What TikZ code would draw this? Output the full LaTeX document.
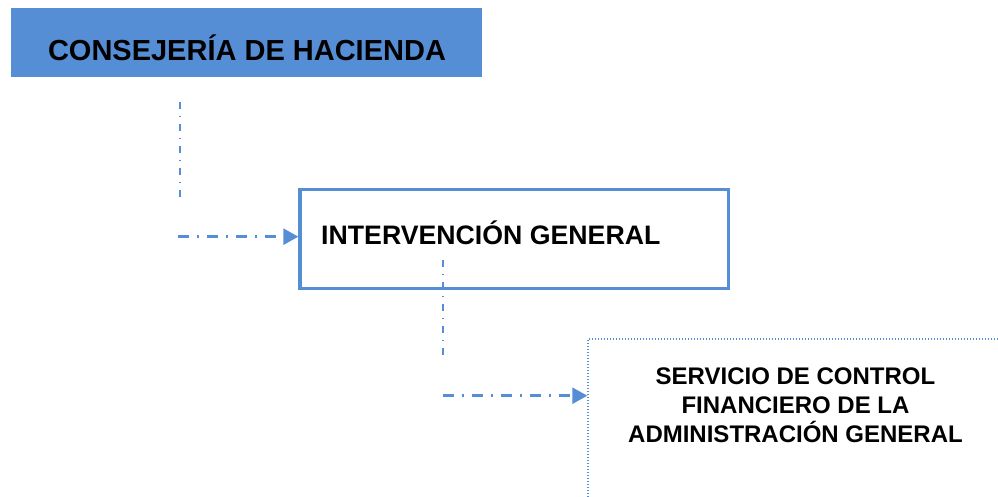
\documentclass[tikz,border=0pt]{standalone}
\usepackage{fontspec}
\setmainfont{Liberation Sans}
\usetikzlibrary{arrows.meta,calc}
\definecolor{obl}{RGB}{85,142,213}
\begin{document}
\begin{tikzpicture}[x=1pt,y=-1pt,
  hline/.style={draw=obl,line width=2.6pt,dash pattern=on 11pt off 8pt on 2pt off 8pt,
    -{Triangle[length=15pt,width=16pt]}},
  vline/.style={draw=obl,line width=2pt,dash pattern=on 7pt off 7pt on 1pt off 7pt},
  lbl/.style={inner sep=0pt,font=\bfseries}]
\useasboundingbox (0,0) rectangle (998,497);
\clip (0,0) rectangle (998,497);
% boxes
\node (cons) [fill=obl,minimum width=471pt,minimum height=68.7pt,inner sep=0pt] at (246.5,42.3) {};
\node (constxt) [lbl,anchor=base,font=\bfseries\fontsize{29pt}{34pt}\selectfont] at (247,61) {CONSEJERÍA DE HACIENDA};
\node (interv) [draw=obl,line width=3.3pt,fill=white,minimum width=428.7pt,minimum height=99.4pt,inner sep=0pt] at (514.35,239) {};
\node (intervtxt) [lbl,anchor=base west,font=\bfseries\fontsize{26.7pt}{32pt}\selectfont] at (321,244) {INTERVENCIÓN GENERAL};
\node (serv) [draw=obl,line width=1.6pt,dash pattern=on 1.4pt off 1.6pt,minimum width=500pt,minimum height=250pt,inner sep=0pt,anchor=north west] at (587.3,338.3) {};
\node (servtxt) [lbl,align=center,font=\bfseries\fontsize{24pt}{29pt}\selectfont] at (795.5,405.5) {SERVICIO DE CONTROL\\FINANCIERO DE LA\\ADMINISTRACIÓN GENERAL};
% connectors
\coordinate (v1a) at (180,101.7);
\coordinate (v1b) at (180,197);
\coordinate (h1a) at (178,236.7);
\draw[vline] (v1a) -- (v1b);
\draw[hline] (h1a) -- (h1a -| interv.west);
\coordinate (v2a) at (443.3,260);
\coordinate (v2b) at (443.3,356.7);
\coordinate (h2a) at (442.7,395.7);
\draw[vline] (v2a) -- (v2b);
\draw[hline] (h2a) -- (h2a -| serv.west);
\end{tikzpicture}
\end{document}
